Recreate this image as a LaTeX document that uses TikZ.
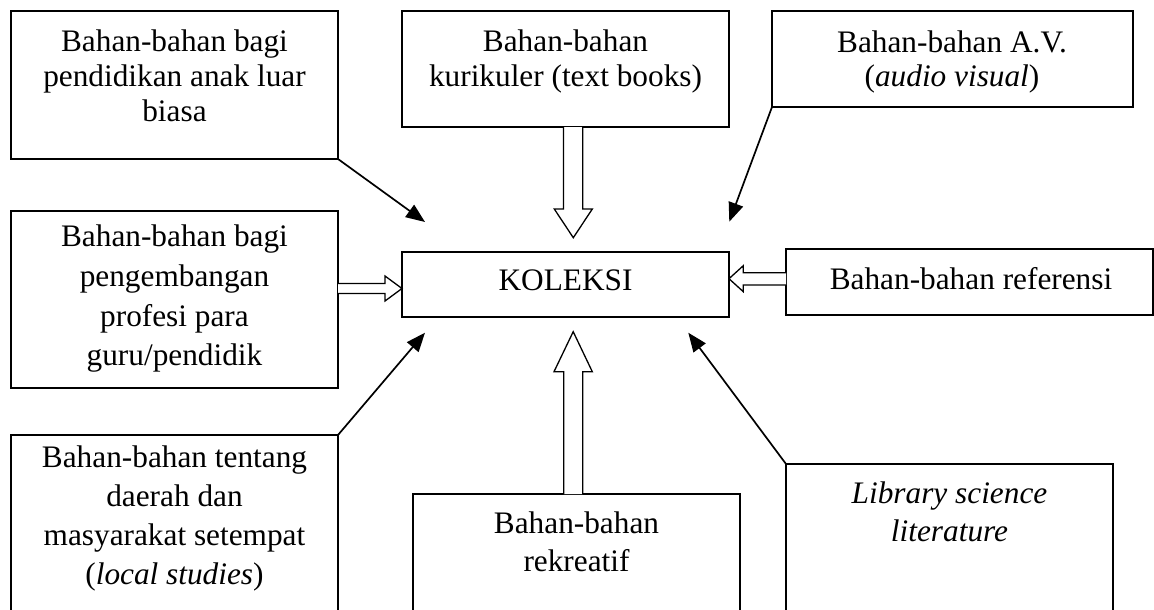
\documentclass[tikz,border=0pt]{standalone}
\usepackage{fontspec}
\setmainfont{Liberation Serif}
\usetikzlibrary{arrows.meta,calc}
\begin{document}
\begin{tikzpicture}[x=1pt,y=-1pt,
  box/.style={draw=black, line width=1.4pt, rectangle, inner sep=0pt, outer sep=0pt, anchor=north west},
  txt/.style={font=\fontsize{31.3}{#1}\selectfont, align=center, inner sep=0pt, anchor=base},
  blk/.style={draw=black, line width=1.3pt, fill=white, line join=miter},
  thin/.style={draw=black, line width=1.7pt, -{Triangle[length=19pt,width=15pt]}}]
\useasboundingbox (0,0) rectangle (1154,610);
\clip (0,0) rectangle (1154,610);
\fill[white] (0,0) rectangle (1154,610);
% boxes
\node[box, minimum width=327pt, minimum height=148pt] (b1) at (11,11) {};
\node[box, minimum width=327pt, minimum height=116pt] (b2) at (402,11) {};
\node[box, minimum width=361pt, minimum height=96pt] (b3) at (772,11) {};
\node[box, minimum width=327pt, minimum height=177pt] (b4) at (11,211) {};
\node[box, minimum width=327pt, minimum height=65pt] (k) at (402,252) {};
\node[box, minimum width=367pt, minimum height=66pt] (b6) at (786,249) {};
\node[box, minimum width=327pt, minimum height=190pt] (b7) at (11,435) {};
\node[box, minimum width=327pt, minimum height=130pt] (b8) at (413,494) {};
\node[box, minimum width=327pt, minimum height=160pt] (b9) at (786,464) {};
% texts (anchor = baseline of last line)
\node[txt=35.3] (t1) at (174.5,121.6) {Bahan-bahan bagi\\pendidikan anak luar\\biasa};
\node[txt=34.5] (t2) at (565.5,86.2) {Bahan-bahan\\kurikuler (text books)};
\node[txt=34] (t3) at (952,86.7) {Bahan-bahan A.V.\\(\textit{audio visual})};
\node[txt=39.7] (t4) at (174.5,365.8) {Bahan-bahan bagi\\pengembangan\\profesi para\\guru/pendidik};
\node[txt=35] (tk) at (565.5,290.7) {KOLEKSI};
\node[txt=35] (t6) at (971,289.3) {Bahan-bahan referensi};
\node[txt=39] (t7) at (174.5,584.7) {Bahan-bahan tentang\\daerah dan\\masyarakat setempat\\(\textit{local studies})};
\node[txt=38.7] (t8) at (576.5,571.7) {Bahan-bahan\\rekreatif};
\node[txt=38.3, font=\fontsize{31.3}{38.3}\selectfont\itshape] (t9) at (949.5,541.6) {Library science\\literature};
% block arrows
\draw[blk] (563.5,0 |- b2.south) -- (563.5,209) -- (554.3,209) -- (573.3,237.7) -- (592.3,209) -- (582.7,209) -- (582.7,0 |- b2.south);
\draw[blk] (b4.east |- 0,283.5) -- (385,283.5) -- (385,276) -- (k.west |- 0,288.5) -- (385,301) -- (385,293.5) -- (b4.east |- 0,293.5);
\draw[blk] (b6.west |- 0,272.7) -- (743.3,272.7) -- (743.3,265.7) -- (k.east |- 0,278.7) -- (743.3,291.7) -- (743.3,285) -- (b6.west |- 0,285);
\draw[blk] (563.7,0 |- b8.north) -- (563.7,371.7) -- (554,371.7) -- (573.2,331.7) -- (592.3,371.7) -- (582.7,371.7) -- (582.7,0 |- b8.north);
% thin arrows
\coordinate (e1) at (425,222);
\coordinate (e3) at (729.3,221.7);
\coordinate (e7) at (425,332.7);
\coordinate (e9) at (688.3,332.7);
\draw[thin] (b1.south east) -- (e1);
\draw[thin] (b3.south west) -- (e3);
\draw[thin] (b7.north east) -- (e7);
\draw[thin] (b9.north west) -- (e9);
\end{tikzpicture}
\end{document}
